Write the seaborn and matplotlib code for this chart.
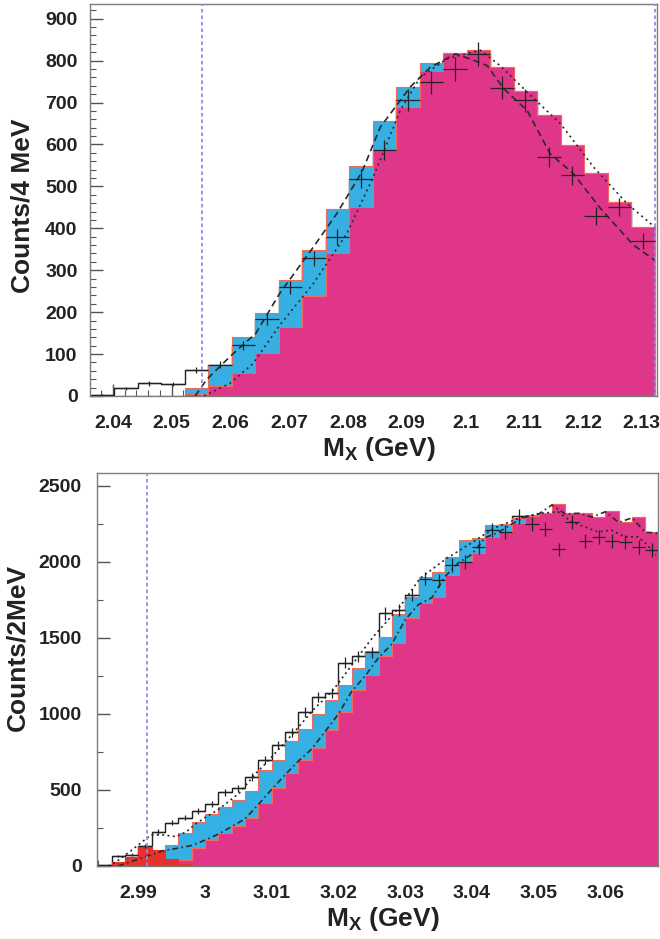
import numpy as np
import pandas as pd
import matplotlib
matplotlib.use("Agg")
import matplotlib.pyplot as plt
from matplotlib.ticker import MultipleLocator, FuncFormatter
import seaborn as sns

# ---------------- top panel (4 MeV bins) ----------------
top_start, top_width, top_nbins = 2.0362, 0.004, 24
top_xlim = (2.0361, 2.1326)
top_blue = [0, 0, 0, 0, 18, 75, 141, 199, 276, 349, 447, 548, 657, 738, 794, 818,
            825, 784, 727, 671, 598, 533, 463, 403]
top_magenta = [0, 0, 0, 0, 5, 24, 56, 102, 165, 239, 340, 451, 586, 689, 775, 818,
               825, 784, 727, 671, 598, 533, 463, 403]
top_data = [3, 18, 30, 28, 62, 75, 121, 183, 259, 328, 379, 518, 586, 706, 748, 780,
            816, 735, 705, 571, 526, 429, 451, 370]
top_fitA_x = [2.0540, 2.0560, 2.0600, 2.0643, 2.0684, 2.0741, 2.0781, 2.0824, 2.0855,
              2.0906, 2.0940, 2.0983, 2.1008, 2.1037, 2.1065, 2.1105, 2.1144, 2.1184,
              2.1230, 2.1286, 2.1322]
top_fitA_y = [0, 40, 95, 149, 245, 355, 435, 535, 641, 737, 784, 816, 804, 788, 733,
              681, 578, 530, 447, 360, 324]
top_fitB_x = [2.0555, 2.0599, 2.0639, 2.0684, 2.0741, 2.0798, 2.0843, 2.0889, 2.0923,
              2.0968, 2.1025, 2.1059, 2.1105, 2.1162, 2.1218, 2.1275, 2.1322]
top_fitB_y = [0, 30, 78, 169, 268, 387, 522, 681, 760, 804, 825, 788, 725, 649, 546,
              459, 403]
top_cuts = [2.0551, 2.1322]
top_xticks = [2.04, 2.05, 2.06, 2.07, 2.08, 2.09, 2.10, 2.11, 2.12, 2.13]
top_yticks = [0, 100, 200, 300, 400, 500, 600, 700, 800, 900]
top_ylabel = "Counts/4 MeV"

# ---------------- bottom panel (2 MeV bins) ----------------
bot_start, bot_width, bot_nbins = 2.984, 0.002, 42
bot_xlim = (2.9838, 3.0679)
bot_red = [5, 28, 61, 131, 105, 45, 10, 0, 0, 0, 0, 0, 0, 0, 0, 0, 0, 0, 0, 0, 0,
           0, 0, 0, 0, 0, 0, 0, 0, 0, 0, 0, 0, 0, 0, 0, 0, 0, 0, 0, 0, 0]
bot_blue = [0, 0, 0, 0, 0, 135, 220, 290, 340, 390, 434, 495, 630, 700, 822, 900,
            1000, 1090, 1190, 1300, 1415, 1508, 1660, 1770, 1902, 1935, 2034, 2143,
            2160, 2242, 2250, 2290, 2310, 2320, 2380, 2319, 2325, 2297, 2332, 2264,
            2297, 2198]
bot_magenta = [0, 0, 0, 0, 0, 10, 40, 116, 171, 215, 263, 313, 412, 511, 609, 697,
               775, 894, 1010, 1157, 1256, 1380, 1464, 1630, 1727, 1771, 1913, 2001,
               2056, 2165, 2198, 2253, 2300, 2320, 2380, 2319, 2325, 2297, 2332, 2264,
               2297, 2198]
bot_data = [5, 65, 75, 131, 226, 285, 318, 360, 410, 485, 511, 585, 697, 796, 880,
            1015, 1113, 1140, 1338, 1380, 1406, 1661, 1683, 1782, 1891, 1880, 1979,
            2001, 2099, 2209, 2198, 2300, 2248, 2217, 2082, 2264, 2140, 2165, 2140,
            2130, 2097, 2078]
bot_fitA_x = [2.9855, 2.9867, 2.9887, 2.9906, 2.9919, 2.9937, 2.9957, 2.9972, 2.9987,
              3.0002, 3.0019, 3.0051, 3.0076, 3.0091, 3.0132, 3.0162, 3.0192, 3.0222,
              3.0252, 3.0292, 3.0322, 3.0362, 3.0402, 3.0432, 3.0472, 3.0501, 3.0529,
              3.0549, 3.0589, 3.0609, 3.0629, 3.0649, 3.0661, 3.0676]
bot_fitA_y = [0, 28, 94, 160, 204, 204, 193, 226, 280, 324, 368, 478, 609, 675, 872,
              1026, 1157, 1333, 1508, 1705, 1891, 2023, 2132, 2220, 2290, 2319, 2330,
              2264, 2198, 2209, 2165, 2165, 2121, 2045]
bot_fitB_x = [2.9870, 2.9900, 2.9937, 2.9960, 2.9980, 3.0000, 3.0020, 3.0040, 3.0060,
              3.0080, 3.0100, 3.0120, 3.0140, 3.0160, 3.0180, 3.0200, 3.0220, 3.0240,
              3.0260, 3.0280, 3.0300, 3.0320, 3.0340, 3.0360, 3.0380, 3.0400, 3.0420,
              3.0440, 3.0460, 3.0480, 3.0500, 3.0520, 3.0540, 3.0560, 3.0580, 3.0600,
              3.0620, 3.0640, 3.0660, 3.0680]
bot_fitB_y = [0, 45, 100, 118, 135, 170, 210, 260, 310, 405, 505, 600, 690, 770, 885,
              1000, 1150, 1250, 1370, 1460, 1620, 1720, 1765, 1905, 1995, 2050, 2160,
              2195, 2250, 2295, 2315, 2375, 2315, 2320, 2295, 2330, 2260, 2290, 2195, 2190]
bot_cuts = [2.9913]
bot_xticks = [2.99, 3.00, 3.01, 3.02, 3.03, 3.04, 3.05, 3.06]
bot_yticks = [0, 500, 1000, 1500, 2000, 2500]
bot_ylabel = "Counts/2MeV"

xlabel = r"M$_\mathregular{X}$ (GeV)"

# ---------------- styling ----------------
MAGENTA = "#e0368a"
BLUE = "#36afe2"
RED = "#e6312c"
EDGE = "#f26a5c"
CUTC = "#8f8fe3"
INK = "#222222"

sns.set_theme(style="white")
plt.rcParams["font.family"] = ["Liberation Sans", "DejaVu Sans"]
plt.rcParams["font.weight"] = "bold"
plt.rcParams["mathtext.default"] = "regular"

fig = plt.figure(figsize=(6.6, 9.39), dpi=100)
ax1 = fig.add_axes([90 / 660, 1 - 396 / 939, 567 / 660, 392 / 939])
ax2 = fig.add_axes([97 / 660, 1 - 866 / 939, 561 / 660, 393 / 939])


def fmt(v, _):
    return f"{round(v, 4):g}"


def hist(ax, centers, edges, vals, **kw):
    df = pd.DataFrame({"x": centers, "w": np.asarray(vals, float)})
    sns.histplot(data=df, x="x", weights="w", bins=list(edges), element="step",
                 ax=ax, **kw)


def panel(ax, start, width, nbins, xlim, blue, magenta, red, data, fitA, fitB, cuts,
          xticks, yticks, ymax, ylabel, xminor, yminor, ylab_x, ylab_y, ypad):
    edges = np.round(start + width * np.arange(nbins + 1), 6)
    centers = 0.5 * (edges[:-1] + edges[1:])
    hist(ax, centers, edges, data, fill=False, color=INK, linewidth=1.0, zorder=0.8)
    hist(ax, centers, edges, blue, fill=True, color=BLUE, alpha=1, edgecolor=EDGE,
         linewidth=0.8, zorder=1)
    hist(ax, centers, edges, magenta, fill=True, color=MAGENTA, alpha=1, edgecolor=EDGE,
         linewidth=0.8, zorder=1.1)
    if red is not None:
        hist(ax, centers, edges, red, fill=True, color=RED, alpha=1, edgecolor=RED,
             linewidth=0.8, zorder=1.2)
    sns.lineplot(x=fitA[0], y=fitA[1], ax=ax, color="#2a2a2a", estimator=None,
                 linestyle=fitA[2], linewidth=1.2, zorder=3)
    sns.lineplot(x=fitB[0], y=fitB[1], ax=ax, color="#2a2a2a", estimator=None,
                 linestyle=fitB[2], linewidth=1.2, zorder=3)
    d = np.asarray(data, float)
    ax.errorbar(centers, d, xerr=width / 2, yerr=np.sqrt(d), fmt="none",
                ecolor=INK, elinewidth=0.9, capsize=0, zorder=4)
    for c in cuts:
        ax.axvline(c, color=CUTC, linestyle=(0, (2, 1.6)), linewidth=1.3, zorder=5)

    ax.set_xlim(*xlim)
    ax.set_ylim(0, ymax)
    ax.set_xticks(xticks)
    ax.set_yticks(yticks)
    ax.xaxis.set_minor_locator(MultipleLocator(xminor))
    ax.yaxis.set_minor_locator(MultipleLocator(yminor))
    ax.xaxis.set_major_formatter(FuncFormatter(fmt))
    ax.tick_params(axis="both", which="both", direction="in", top=False, right=False,
                   bottom=True, left=True, colors="#555555", labelcolor=INK)
    ax.tick_params(axis="both", which="major", length=9, width=1.0, labelsize=14)
    ax.tick_params(axis="both", which="minor", length=4.5, width=0.8)
    ax.tick_params(axis="x", which="major", pad=14)
    ax.tick_params(axis="y", which="major", pad=ypad)
    for lab in ax.get_xticklabels() + ax.get_yticklabels():
        lab.set_fontweight("bold")
    for s in ax.spines.values():
        s.set_color("#7d7d7d")
        s.set_linewidth(1.0)
        s.set_visible(True)
    ax.set_ylabel(ylabel, fontsize=19, fontweight="bold", color=INK)
    ax.set_xlabel(xlabel, fontsize=19, fontweight="bold", color=INK)
    ax.yaxis.set_label_coords(ylab_x, ylab_y)
    ax.xaxis.set_label_coords(0.51, -0.10)
    ax.xaxis.label.set_va("top")


panel(ax1, top_start, top_width, top_nbins, top_xlim, top_blue, top_magenta, None,
      top_data, (top_fitA_x, top_fitA_y, (0, (4, 2.5))),
      (top_fitB_x, top_fitB_y, (0, (1.2, 2.2))),
      top_cuts, top_xticks, top_yticks, 935, top_ylabel, 0.002, 20, -0.098, 0.485, 9)
panel(ax2, bot_start, bot_width, bot_nbins, bot_xlim, bot_blue, bot_magenta, bot_red,
      bot_data, (bot_fitA_x, bot_fitA_y, (0, (1.2, 2.0))),
      (bot_fitB_x, bot_fitB_y, (0, (3.5, 2, 1, 2))),
      bot_cuts, bot_xticks, bot_yticks, 2585, bot_ylabel, 0.002, 250, -0.12, 0.555, 11)

fig.savefig("out.png", dpi=100)
